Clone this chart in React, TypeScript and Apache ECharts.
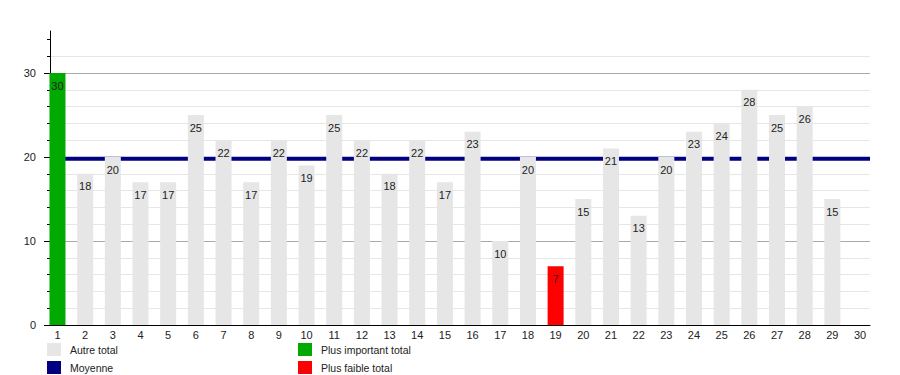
import React, { useEffect, useRef } from "react";
import * as echarts from "echarts";

const categories: number[] = Array.from({ length: 30 }, (_, i) => i + 1);
const totals: (number | null)[] = [
  30, 18, 20, 17, 17, 25, 22, 17, 22, 19, 25, 22, 18, 22, 17, 23, 10, 20, 7, 15,
  21, 13, 20, 23, 24, 28, 25, 26, 15, null,
];
const meanValue = 19.8;
const majorTicks = [0, 10, 20, 30];
const minorTicks = [0, 2, 4, 6, 8, 10, 12, 14, 16, 18, 20, 22, 24, 26, 28, 30, 32, 34];
const legendItems = [
  { name: "Autre total", color: "#e6e6e6" },
  { name: "Moyenne", color: "#000080" },
  { name: "Plus important total", color: "#00aa00" },
  { name: "Plus faible total", color: "#ff0000" },
];

const FONT = "'Liberation Sans', Arial, sans-serif";

export default function App() {
  const ref = useRef<HTMLDivElement>(null);
  useEffect(() => {
    document.body.style.margin = "0";
    if (!ref.current) return;
    const chart = echarts.init(ref.current, null, { renderer: "svg" });
    const vals = totals.filter((v) => v != null) as number[];
    const maxV = Math.max(...vals);
    const minV = Math.min(...vals);
    const barData = categories.map((c, i) => {
      const v = totals[i];
      if (v == null) return [c, null];
      let color = "#e6e6e6";
      if (v === maxV) color = "#00aa00";
      else if (v === minV) color = "#ff0000";
      return { value: [c, v], itemStyle: { color } };
    });
    const xMin = 0.73;
    const xMax = 30.36;
    const graphic: any[] = [];
    legendItems.forEach((it, i) => {
      const col = Math.floor(i / 2);
      const row = i % 2;
      const x = col === 0 ? 47 : 298;
      const y = row === 0 ? 343 : 361;
      graphic.push({
        type: "rect",
        shape: { x, y, width: 14, height: 13 },
        style: { fill: it.color },
      });
      graphic.push({
        type: "text",
        x: x + 23,
        y: y + 7,
        style: {
          text: it.name,
          fill: "#222",
          font: `10.5px ${FONT}`,
          verticalAlign: "middle",
        },
      });
    });
    chart.setOption({
      animation: false,
      textStyle: { fontFamily: FONT },
      grid: { left: 50, right: 30, top: 31, bottom: 50 },
      xAxis: {
        type: "value",
        min: xMin,
        max: xMax,
        axisLine: { show: true, lineStyle: { color: "#000", width: 1 } },
        axisTick: { show: false },
        splitLine: { show: false },
        axisLabel: {
          customValues: categories,
          color: "#222",
          fontSize: 11,
          fontFamily: FONT,
          margin: 4,
        },
      },
      yAxis: [
        {
          type: "value",
          min: 0,
          max: 35,
          interval: 2,
          position: "left",
          axisLine: { show: true, lineStyle: { color: "#000" } },
          axisTick: {
            show: true,
            length: 3,
            customValues: minorTicks,
            lineStyle: { color: "#000" },
          },
          axisLabel: { show: false },
          splitLine: {
            show: true,
            showMaxLine: false,
            lineStyle: {
              color: ["#aaaaaa", "#e6e6e6", "#e6e6e6", "#e6e6e6", "#e6e6e6"],
              width: 1,
            },
          },
        },
        {
          type: "value",
          min: 0,
          max: 35,
          position: "left",
          axisLine: { show: false },
          axisTick: {
            show: true,
            length: 6,
            customValues: majorTicks,
            lineStyle: { color: "#000" },
          },
          axisLabel: {
            customValues: majorTicks,
            color: "#222",
            fontSize: 11,
            fontFamily: FONT,
            margin: 14,
          },
          splitLine: { show: false },
        },
      ],
      series: [
        {
          type: "line",
          data: [
            [xMin + 0.001, meanValue],
            [xMax, meanValue],
          ],
          symbol: "none",
          lineStyle: { color: "#000080", width: 4 },
          z: 1,
          silent: true,
        },
        {
          type: "bar",
          data: barData,
          barWidth: 16,
          z: 3,
          label: {
            show: true,
            position: "insideTop",
            distance: 7,
            color: "#222",
            fontSize: 11,
            fontFamily: FONT,
          },
        },
      ],
      graphic,
    });
    return () => chart.dispose();
  }, []);
  return <div ref={ref} style={{ width: 900, height: 375 }} />;
}
